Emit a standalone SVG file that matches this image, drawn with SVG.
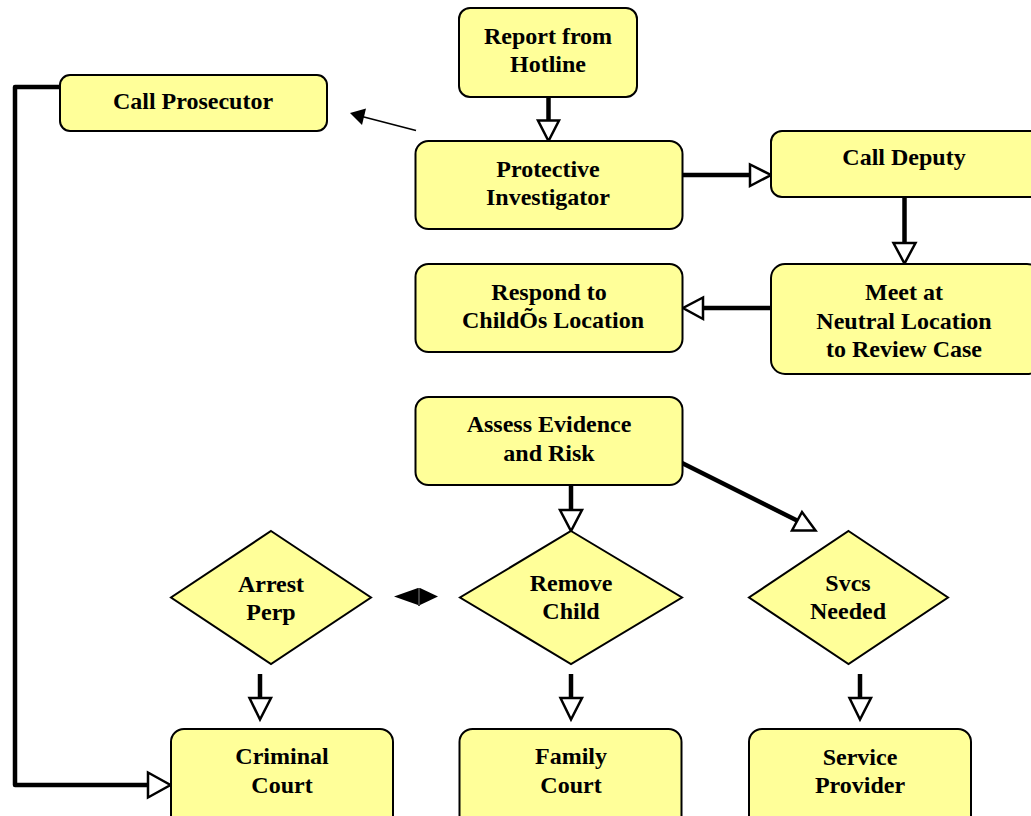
<svg xmlns="http://www.w3.org/2000/svg" width="1031" height="816" viewBox="0 0 1031 816">
<style>
.box{fill:#FFFF99;stroke:#000;stroke-width:2}
.t{font-family:"Liberation Serif","Times New Roman",serif;font-weight:bold;font-size:24px;fill:#000;text-anchor:middle}
.ln{stroke:#000;stroke-width:4.5;fill:none}
.tri{fill:#fff;stroke:#000;stroke-width:2.5;stroke-linejoin:miter}
</style>
<rect width="1031" height="816" fill="#fff"/>
<g id="connectors">
  <line class="ln" x1="548.5" y1="97" x2="548.5" y2="121"/>
  <polygon class="tri" points="538,120.5 559,120.5 548.5,141"/>
  <line class="ln" x1="683" y1="175" x2="751" y2="175"/>
  <polygon class="tri" points="750,164.5 750,186 771,175"/>
  <line class="ln" x1="904.5" y1="197" x2="904.5" y2="244"/>
  <polygon class="tri" points="893.5,243 915.5,243 904.5,263.5"/>
  <line class="ln" x1="771" y1="308" x2="702" y2="308"/>
  <polygon class="tri" points="703,297.5 703,319 683,308"/>
  <line x1="416" y1="130.5" x2="362" y2="116.5" stroke="#000" stroke-width="1.8"/>
  <polygon points="350,113 366,108.5 362,125" fill="#000"/>
  <line class="ln" x1="571" y1="485" x2="571" y2="511"/>
  <polygon class="tri" points="560,510 582,510 571,531"/>
  <line class="ln" stroke-width="5" x1="682" y1="463" x2="798" y2="521"/>
  <polygon class="tri" points="802,512 792,530.5 815.5,530.5"/>
  <polygon points="394,596.5 418,588 418,605" fill="#000"/>
  <polygon points="438,596.5 420,588 420,605" fill="#000"/>
  <line x1="419" y1="588" x2="419" y2="606" stroke="#000" stroke-width="1.5"/>
  <line class="ln" x1="260" y1="674" x2="260" y2="699"/>
  <polygon class="tri" points="249.5,698 271,698 260,719.5"/>
  <line class="ln" x1="571" y1="674" x2="571" y2="699"/>
  <polygon class="tri" points="560.5,698 582,698 571,719.5"/>
  <line class="ln" x1="860" y1="674" x2="860" y2="699"/>
  <polygon class="tri" points="849.5,698 871,698 860,719.5"/>
  <polyline class="ln" stroke-width="6" stroke-linejoin="round" points="59,87 15,87 15,785 149,785"/>
  <polygon class="tri" stroke-width="3" points="148,772.5 148,797.5 170.5,785"/>
</g>
<g id="report">
  <rect class="box" x="459" y="8" width="178" height="89" rx="11"/>
  <text class="t" x="548" y="43.5">Report from</text>
  <text class="t" x="548" y="71.5">Hotline</text>
</g>
<g id="call-prosecutor">
  <rect class="box" x="60" y="75" width="267" height="56" rx="10"/>
  <text class="t" x="193" y="109">Call Prosecutor</text>
</g>
<g id="protective-investigator">
  <rect class="box" x="415.5" y="141" width="267" height="88" rx="13"/>
  <text class="t" x="548" y="177">Protective</text>
  <text class="t" x="548" y="205">Investigator</text>
</g>
<g id="call-deputy">
  <rect class="box" x="771" y="131" width="270" height="66" rx="11"/>
  <text class="t" x="904" y="165">Call Deputy</text>
</g>
<g id="respond">
  <rect class="box" x="415.5" y="264" width="267" height="88" rx="13"/>
  <text class="t" x="549" y="299.5">Respond to</text>
  <text class="t" x="553" y="328">ChildÕs Location</text>
</g>
<g id="meet">
  <rect class="box" x="771" y="264" width="270" height="110" rx="14"/>
  <text class="t" x="904" y="300">Meet at</text>
  <text class="t" x="904" y="328.5">Neutral Location</text>
  <text class="t" x="904" y="357">to Review Case</text>
</g>
<g id="assess">
  <rect class="box" x="415.5" y="397" width="267" height="88" rx="13"/>
  <text class="t" x="549" y="432">Assess Evidence</text>
  <text class="t" x="549" y="460.5">and Risk</text>
</g>
<g id="arrest-perp">
  <polygon class="box" points="271,531 371,597.5 271,664 171,597.5"/>
  <text class="t" x="271" y="591.5">Arrest</text>
  <text class="t" x="271" y="619.5">Perp</text>
</g>
<g id="remove-child">
  <polygon class="box" points="571,531 682,597.5 571,664 460,597.5"/>
  <text class="t" x="571" y="590.5">Remove</text>
  <text class="t" x="571" y="619">Child</text>
</g>
<g id="svcs-needed">
  <polygon class="box" points="848.5,531 948,597.5 848.5,664 749,597.5"/>
  <text class="t" x="848" y="591">Svcs</text>
  <text class="t" x="848" y="619">Needed</text>
</g>
<g id="criminal-court">
  <rect class="box" x="171" y="729" width="222" height="100" rx="13"/>
  <text class="t" x="282" y="764">Criminal</text>
  <text class="t" x="282" y="793">Court</text>
</g>
<g id="family-court">
  <rect class="box" x="459.5" y="729" width="222" height="100" rx="13"/>
  <text class="t" x="571" y="764">Family</text>
  <text class="t" x="571" y="793">Court</text>
</g>
<g id="service-provider">
  <rect class="box" x="749" y="729" width="222" height="100" rx="13"/>
  <text class="t" x="860" y="765">Service</text>
  <text class="t" x="860" y="793">Provider</text>
</g>
</svg>
